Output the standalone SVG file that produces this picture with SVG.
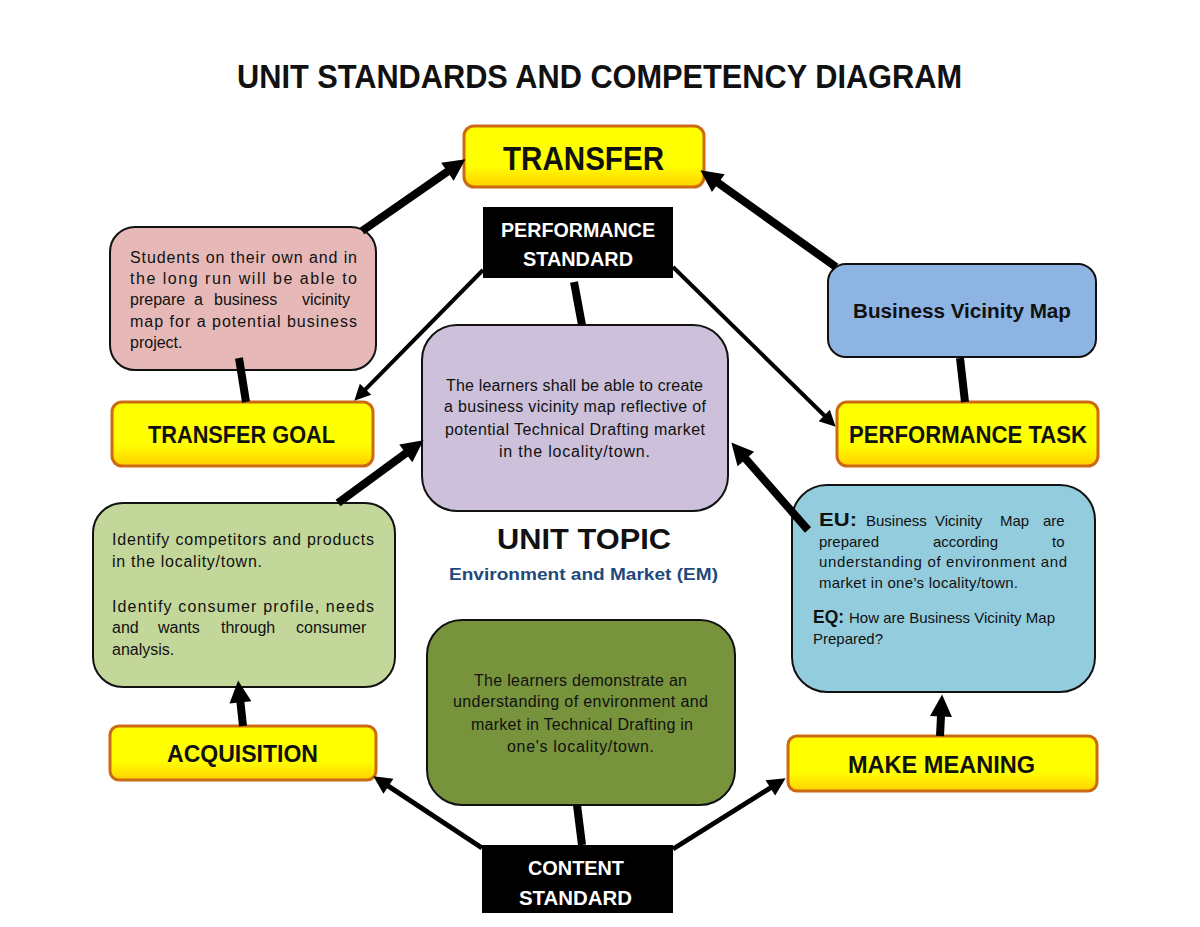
<svg xmlns="http://www.w3.org/2000/svg" width="1200" height="927" viewBox="0 0 1200 927">
<style>
.t{font-family:"Liberation Sans",Arial,sans-serif;fill:#111;}
.b{font-weight:bold;}
.body{font-size:16px;}
.sm{font-size:15px;}
.lbl{font-size:24px;font-weight:bold;}
.w{fill:#fff;font-weight:bold;font-size:20px;}
.yb{fill:url(#yg);stroke:#CC6A14;stroke-width:3;}
.bx{stroke:#111;stroke-width:2;}
.thick{stroke:#000;stroke-width:8;fill:none;}
.mid{stroke:#000;stroke-width:5;fill:none;}
.thin{stroke:#000;stroke-width:4;fill:none;}
</style>
<defs>
<linearGradient id="yg" x1="0" y1="0" x2="0" y2="1">
<stop offset="0" stop-color="#FFFF00"/>
<stop offset="0.65" stop-color="#FFFF00"/>
<stop offset="1" stop-color="#FFD000"/>
</linearGradient>
<marker id="ah" markerUnits="userSpaceOnUse" markerWidth="26" markerHeight="26" viewBox="0 -13 26 26" refX="0.5" refY="0" orient="auto" overflow="visible"><path d="M0,-11 L22,0 L0,11 z" fill="#000"/></marker>
<marker id="am" markerUnits="userSpaceOnUse" markerWidth="22" markerHeight="22" viewBox="0 -11 22 22" refX="0.5" refY="0" orient="auto" overflow="visible"><path d="M0,-9 L18,0 L0,9 z" fill="#000"/></marker>
<marker id="as" markerUnits="userSpaceOnUse" markerWidth="20" markerHeight="20" viewBox="0 -10 20 20" refX="0.5" refY="0" orient="auto" overflow="visible"><path d="M0,-8 L16,0 L0,8 z" fill="#000"/></marker>
<clipPath id="pc"><rect x="100" y="220" width="290" height="133"/></clipPath>
</defs>
<rect width="1200" height="927" fill="#fff"/>

<text class="t b" x="237" y="88" font-size="33" textLength="725" lengthAdjust="spacingAndGlyphs">UNIT STANDARDS AND COMPETENCY DIAGRAM</text>

<g id="transfer">
<rect class="yb" x="464" y="126" width="240" height="61" rx="10"/>
<text class="t b" x="503" y="170" font-size="34" textLength="161" lengthAdjust="spacingAndGlyphs">TRANSFER</text>
</g>

<g id="performance-standard">
<rect x="483" y="207" width="190" height="71" fill="#000"/>
<text class="t w" x="501" y="237" textLength="154" lengthAdjust="spacingAndGlyphs">PERFORMANCE</text>
<text class="t w" x="523" y="266" textLength="110" lengthAdjust="spacingAndGlyphs">STANDARD</text>
</g>

<g id="transfer-goal-desc">
<rect class="bx" x="110" y="227" width="266" height="143" rx="25" fill="#E6B9B8"/>
<g clip-path="url(#pc)">
<text class="t body" x="130" y="263" textLength="227" lengthAdjust="spacing">Students on their own and in</text>
<text class="t body" x="130" y="284" textLength="227" lengthAdjust="spacing">the long run will be able to</text>
<text class="t body" y="305"><tspan x="130">prepare</tspan><tspan x="194">a</tspan><tspan x="214">business</tspan><tspan x="302">vicinity</tspan></text>
<text class="t body" x="130" y="327" textLength="227" lengthAdjust="spacing">map for a potential business</text>
<text class="t body" x="130" y="348">project.</text>
</g>
</g>

<g id="transfer-goal">
<rect class="yb" x="112" y="402" width="261" height="64" rx="10"/>
<text class="t lbl" x="148" y="443" textLength="187" lengthAdjust="spacingAndGlyphs">TRANSFER GOAL</text>
</g>

<g id="performance-standard-desc">
<rect class="bx" x="422" y="325" width="306" height="186" rx="35" fill="#CCC0DA"/>
<text class="t body" x="446" y="391" textLength="257" lengthAdjust="spacing">The learners shall be able to create</text>
<text class="t body" x="444" y="412" textLength="262" lengthAdjust="spacing">a business vicinity map reflective of</text>
<text class="t body" x="445" y="435" textLength="260" lengthAdjust="spacing">potential Technical Drafting market</text>
<text class="t body" x="499" y="457" textLength="151" lengthAdjust="spacing">in the locality/town.</text>
</g>

<g id="business-vicinity-map">
<rect class="bx" x="828" y="264" width="268" height="93" rx="18" fill="#8DB4E2"/>
<text class="t b" x="853" y="318" font-size="20" textLength="218" lengthAdjust="spacingAndGlyphs">Business Vicinity Map</text>
</g>

<g id="performance-task">
<rect class="yb" x="837" y="402" width="261" height="64" rx="10"/>
<text class="t lbl" x="849" y="443" textLength="238" lengthAdjust="spacingAndGlyphs">PERFORMANCE TASK</text>
</g>

<g id="acquisition-desc">
<rect class="bx" x="93" y="503" width="302" height="184" rx="30" fill="#C4D79B"/>
<text class="t body" x="112" y="545" textLength="262" lengthAdjust="spacing">Identify competitors and products</text>
<text class="t body" x="112" y="567" textLength="150" lengthAdjust="spacing">in the locality/town.</text>
<text class="t body" x="112" y="612" textLength="262" lengthAdjust="spacing">Identify consumer profile, needs</text>
<text class="t body" y="633"><tspan x="112">and</tspan><tspan x="158">wants</tspan><tspan x="221">through</tspan><tspan x="296">consumer</tspan></text>
<text class="t body" x="112" y="655">analysis.</text>
</g>

<g id="unit-topic">
<text class="t b" x="497" y="549" font-size="30" textLength="174" lengthAdjust="spacingAndGlyphs">UNIT TOPIC</text>
<text class="t b" x="449" y="580" font-size="16.5" style="fill:#1F497D" textLength="269" lengthAdjust="spacingAndGlyphs">Environment and Market (EM)</text>
</g>

<g id="make-meaning-desc">
<rect class="bx" x="792" y="485" width="303" height="207" rx="35" fill="#93CDDD"/>
<text class="t b" x="819" y="526" font-size="18" textLength="38" lengthAdjust="spacingAndGlyphs">EU:</text>
<text class="t sm" y="526"><tspan x="866">Business</tspan><tspan x="935">Vicinity</tspan><tspan x="1000">Map</tspan><tspan x="1043">are</tspan></text>
<text class="t sm" y="547"><tspan x="819">prepared</tspan><tspan x="933">according</tspan><tspan x="1052">to</tspan></text>
<text class="t sm" x="819" y="567" textLength="248" lengthAdjust="spacing">understanding of environment and</text>
<text class="t sm" x="819" y="588" textLength="199" lengthAdjust="spacing">market in one’s locality/town.</text>
<text class="t b" x="813" y="623" font-size="18" textLength="31" lengthAdjust="spacingAndGlyphs">EQ:</text>
<text class="t sm" x="849" y="623" textLength="206" lengthAdjust="spacing">How are Business Vicinity Map</text>
<text class="t sm" x="813" y="644">Prepared?</text>
</g>

<g id="acquisition">
<rect class="yb" x="110" y="726" width="266" height="54" rx="9"/>
<text class="t lbl" x="167" y="762" textLength="151" lengthAdjust="spacingAndGlyphs">ACQUISITION</text>
</g>

<g id="content-standard-desc">
<rect class="bx" x="427" y="620" width="308" height="185" rx="35" fill="#77933C"/>
<text class="t body" x="474" y="686" textLength="213" lengthAdjust="spacing">The learners demonstrate an</text>
<text class="t body" x="453" y="707" textLength="255" lengthAdjust="spacing">understanding of environment and</text>
<text class="t body" x="471" y="730" textLength="222" lengthAdjust="spacing">market in Technical Drafting in</text>
<text class="t body" x="507" y="752" textLength="147" lengthAdjust="spacing">one's locality/town.</text>
</g>

<g id="make-meaning">
<rect class="yb" x="788" y="736" width="309" height="55" rx="9"/>
<text class="t lbl" x="848" y="773" textLength="187" lengthAdjust="spacingAndGlyphs">MAKE MEANING</text>
</g>

<g id="content-standard">
<rect x="482" y="845" width="191" height="68" fill="#000"/>
<text class="t w" x="528" y="875" textLength="96" lengthAdjust="spacingAndGlyphs">CONTENT</text>
<text class="t w" x="519" y="905" textLength="113" lengthAdjust="spacingAndGlyphs">STANDARD</text>
</g>

<g id="connectors">
<line class="thick" x1="362" y1="231" x2="447.8" y2="171.4" marker-end="url(#ah)"/>
<line class="thick" x1="836" y1="267" x2="717.9" y2="182.8" marker-end="url(#ah)"/>
<line class="thin" x1="483" y1="270" x2="365.2" y2="389.6" marker-end="url(#as)"/>
<line class="thin" x1="673" y1="267" x2="824.6" y2="415.8" marker-end="url(#as)"/>
<line class="thick" x1="338" y1="503" x2="406.2" y2="453" marker-end="url(#ah)"/>
<line class="thick" x1="808" y1="530" x2="745.5" y2="458.6" marker-end="url(#ah)"/>
<line class="thick" x1="243" y1="726" x2="240.4" y2="701.9" marker-end="url(#ah)"/>
<line class="thick" x1="940" y1="736" x2="941" y2="716" marker-end="url(#ah)"/>
<line class="mid" x1="482" y1="848" x2="388" y2="785.9" marker-end="url(#am)"/>
<line class="mid" x1="673" y1="849" x2="770.8" y2="787.6" marker-end="url(#am)"/>
<line class="thick" x1="239" y1="358" x2="246" y2="402"/>
<line class="thick" x1="574" y1="282" x2="582" y2="325"/>
<line class="thick" x1="960" y1="358" x2="965" y2="402"/>
<line class="thick" x1="577" y1="805" x2="582" y2="845"/>
</g>
</svg>
